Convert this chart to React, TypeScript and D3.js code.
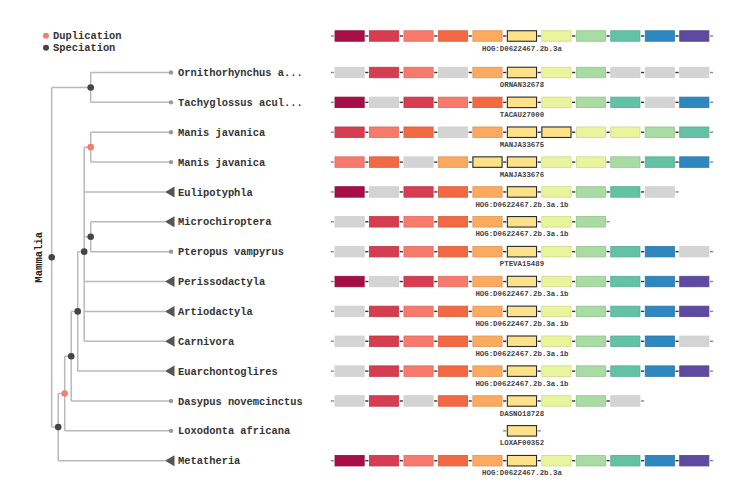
import React from "react";
import * as d3 from "d3";

// ---------- data ----------
const leafNames = [
  "Ornithorhynchus a...",
  "Tachyglossus acul...",
  "Manis javanica",
  "Manis javanica",
  "Eulipotyphla",
  "Microchiroptera",
  "Pteropus vampyrus",
  "Perissodactyla",
  "Artiodactyla",
  "Carnivora",
  "Euarchontoglires",
  "Dasypus novemcinctus",
  "Loxodonta africana",
  "Metatheria",
];
// "L" = single leaf (dot), "C" = collapsed clade (triangle)
const leafKinds = ["L", "L", "L", "L", "C", "C", "L", "C", "C", "C", "C", "L", "L", "C"];

const headerGeneId = "HOG:D0622467.2b.3a";
const geneIds = [
  "ORNAN32678",
  "TACAU27000",
  "MANJA33675",
  "MANJA33676",
  "HOG:D0622467.2b.3a.1b",
  "HOG:D0622467.2b.3a.1b",
  "PTEVA15489",
  "HOG:D0622467.2b.3a.1b",
  "HOG:D0622467.2b.3a.1b",
  "HOG:D0622467.2b.3a.1b",
  "HOG:D0622467.2b.3a.1b",
  "DASNO18728",
  "LOXAF00352",
  "HOG:D0622467.2b.3a",
];

// gene neighbourhood: 11 slots; codes: 0..10 colour index, "g" grey, "*" focal gene, "" absent
const headerRow = ["0", "1", "2", "3", "4", "*", "6", "7", "8", "9", "10"];
const geneRows = [
  ["g", "1", "2", "g", "4", "*", "6", "7", "g", "g", "g"],
  ["0", "g", "1", "2", "3", "*", "6", "7", "8", "g", "9"],
  ["1", "2", "3", "g", "4", "*", "*", "6", "6", "7", "8"],
  ["2", "3", "g", "4", "*", "*", "6", "6", "7", "8", "9"],
  ["0", "g", "1", "3", "4", "*", "6", "7", "8", "g", ""],
  ["g", "1", "2", "3", "4", "*", "6", "7", "", "", ""],
  ["g", "1", "2", "3", "4", "*", "6", "7", "8", "9", "g"],
  ["0", "g", "1", "2", "4", "*", "6", "7", "8", "9", "10"],
  ["g", "1", "2", "3", "4", "*", "6", "7", "8", "9", "10"],
  ["g", "1", "2", "3", "4", "*", "6", "7", "8", "9", "g"],
  ["g", "1", "2", "3", "4", "*", "6", "7", "8", "9", "10"],
  ["g", "1", "g", "3", "4", "*", "6", "7", "g", "", ""],
  ["", "", "", "", "", "*", "", "", "", "", ""],
  ["0", "1", "2", "3", "4", "*", "6", "7", "8", "9", "10"],
];

const slotColors = [
  "#a50f45",
  "#d63d50",
  "#f87a6c",
  "#f36943",
  "#fcaa5f",
  "#fee28a",
  "#e8f59c",
  "#a9dca2",
  "#63c2a4",
  "#2f87c0",
  "#5e4ba1",
];
const greyGene = "#d4d4d4";
const focalColor = "#fee28a";

const legendItems = [
  { label: "Duplication", color: "#f47c72" },
  { label: "Speciation", color: "#454545" },
];
const rootLabel = "Mammalia";

// tree topology (leaves refer to row index)
type TNode = { event?: string; leaf?: number; children?: TNode[] };
const treeData: TNode = {
  event: "S",
  children: [
    { event: "S", children: [{ leaf: 0 }, { leaf: 1 }] },
    {
      event: "S",
      children: [
        {
          event: "D",
          children: [
            {
              event: "S",
              children: [
                {
                  event: "S",
                  children: [
                    {
                      event: "S",
                      children: [
                        { event: "D", children: [{ leaf: 2 }, { leaf: 3 }] },
                        { leaf: 4 },
                        { event: "S", children: [{ leaf: 5 }, { leaf: 6 }] },
                        { leaf: 7 },
                        { leaf: 8 },
                        { leaf: 9 },
                      ],
                    },
                    { leaf: 10 },
                  ],
                },
                { leaf: 11 },
              ],
            },
            { leaf: 12 },
          ],
        },
        { leaf: 13 },
      ],
    },
  ],
};

// ---------- layout ----------
const W = 745;
const H = 490;
const FONT = "'Liberation Mono', 'Courier New', monospace";

export default function App() {
  const rowY = d3.scaleLinear().domain([0, 13]).range([72.5, 460.7]);
  const headerY = 36;
  const heightX = d3.scaleLinear().domain([1, 7]).range([90.7, 51.7]);
  const leafDotX = 171;
  const triTipX = 165;
  const labelX = 178;

  const root = d3.hierarchy<TNode>(treeData, (d) => d.children);
  // y positions: leaves from rows, internal = mean of children
  const yOf = new Map<any, number>();
  root.eachAfter((n) => {
    if (!n.children) yOf.set(n, rowY(n.data.leaf as number));
    else yOf.set(n, d3.mean(n.children, (c) => yOf.get(c) as number) as number);
  });
  const xOf = (n: d3.HierarchyNode<TNode>) => {
    if (!n.children) return leafKinds[n.data.leaf as number] === "C" ? triTipX : leafDotX;
    return heightX(n.height);
  };

  const links: JSX.Element[] = [];
  const internalDots: JSX.Element[] = [];
  const leafMarks: JSX.Element[] = [];
  let k = 0;
  root.each((n) => {
    const x = xOf(n);
    const y = yOf.get(n) as number;
    if (n.children) {
      const ys = n.children.map((c) => yOf.get(c) as number);
      links.push(
        <line key={"v" + k++} x1={x} x2={x} y1={d3.min(ys)} y2={d3.max(ys)} stroke="#b9b9b9" strokeWidth={1.5} />
      );
      n.children.forEach((c) => {
        const cy = yOf.get(c) as number;
        links.push(
          <line key={"h" + k++} x1={x} x2={xOf(c)} y1={cy} y2={cy} stroke="#b9b9b9" strokeWidth={1.5} />
        );
      });
      internalDots.push(
        <circle
          key={"n" + k++}
          cx={x}
          cy={y}
          r={3.3}
          fill={n.data.event === "D" ? legendItems[0].color : legendItems[1].color}
        />
      );
    } else {
      const i = n.data.leaf as number;
      if (leafKinds[i] === "C") {
        leafMarks.push(
          <path
            key={"t" + i}
            d={`M${triTipX},${y} L${triTipX + 9.5},${y - 5.5} L${triTipX + 9.5},${y + 5.5} Z`}
            fill="#555"
          />
        );
      } else {
        leafMarks.push(<circle key={"l" + i} cx={leafDotX} cy={y} r={2.2} fill="#999" />);
      }
      leafMarks.push(
        <text
          key={"lt" + i}
          x={labelX}
          y={y}
          dy="0.35em"
          fontFamily={FONT}
          fontWeight="bold"
          fontSize={10.4}
          fill="#333"
        >
          {leafNames[i]}
        </text>
      );
    }
  });

  // gene boxes
  const slotX = d3.scaleLinear().domain([0, 10]).range([335, 679.7]);
  const boxW = 29.2;
  const boxH = 10.5;
  const gapHalf = (slotX(1) - slotX(0) - boxW) / 2;

  const renderRow = (codes: string[], y: number, label: string, key: string) => {
    const els: JSX.Element[] = [];
    // dashes in gaps
    for (let g = 0; g <= codes.length; g++) {
      const prev = g > 0 && codes[g - 1] !== "";
      const next = g < codes.length && codes[g] !== "";
      if (!prev && !next) continue;
      const gx = g < codes.length ? slotX(g) - gapHalf : slotX(g - 1) + boxW + gapHalf;
      els.push(
        <line
          key={key + "d" + g}
          x1={gx - 1.6}
          x2={gx + 1.6}
          y1={y}
          y2={y}
          stroke={prev && next ? "#333" : "#8a8a8a"}
          strokeWidth={1.4}
        />
      );
    }
    codes.forEach((c, i) => {
      if (c === "") return;
      let fill: string;
      let stroke: string;
      let sw = 0.8;
      if (c === "*") {
        fill = focalColor;
        stroke = "#2a2a2a";
        sw = 1.1;
      } else if (c === "g") {
        fill = greyGene;
        stroke = "#cfcfcf";
      } else {
        fill = slotColors[+c];
        stroke = (d3.color(fill) as d3.RGBColor).darker(0.35).formatHex();
      }
      els.push(
        <rect
          key={key + "b" + i}
          x={slotX(i)}
          y={y - boxH / 2}
          width={boxW}
          height={boxH}
          fill={fill}
          stroke={stroke}
          strokeWidth={sw}
        />
      );
    });
    els.push(
      <text
        key={key + "lab"}
        x={slotX(5) + boxW / 2}
        y={y + 12}
        dy="0.35em"
        textAnchor="middle"
        fontFamily={FONT}
        fontWeight="bold"
        fontSize={7.4}
        fill="#444"
      >
        {label}
      </text>
    );
    return els;
  };

  return (
    <svg
      width={W}
      height={H}
      style={{ position: "absolute", left: 0, top: 0, background: "#fff" }}
    >
      {/* legend */}
      {legendItems.map((it, i) => (
        <g key={it.label}>
          <circle cx={46} cy={35.7 + i * 12} r={3} fill={it.color} />
          <text
            x={53}
            y={35.7 + i * 12}
            dy="0.35em"
            fontFamily={FONT}
            fontWeight="bold"
            fontSize={10.4}
            fill="#333"
          >
            {it.label}
          </text>
        </g>
      ))}
      {/* root label */}
      <text
        transform={`translate(38,${yOf.get(root)}) rotate(-90)`}
        dy="0.35em"
        textAnchor="middle"
        fontFamily={FONT}
        fontWeight="bold"
        fontSize={10.6}
        fill="#222"
      >
        {rootLabel}
      </text>
      {links}
      {internalDots}
      {leafMarks}
      {renderRow(headerRow, headerY, headerGeneId, "hdr")}
      {geneRows.map((r, i) => renderRow(r, rowY(i), geneIds[i], "r" + i))}
    </svg>
  );
}
